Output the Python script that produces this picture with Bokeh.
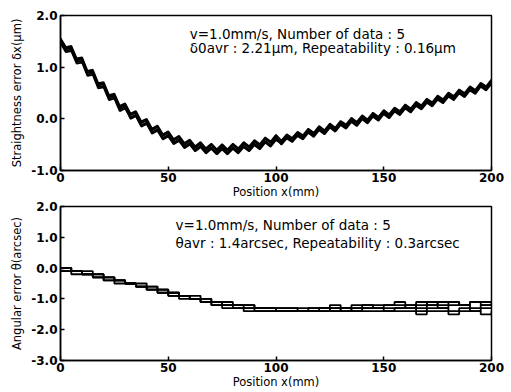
from bokeh.plotting import figure
from bokeh.layouts import column
from bokeh.models import FixedTicker, PrintfTickFormatter, Label, Range1d
from bokeh.embed import file_html
from bokeh.resources import INLINE

# ---- data: straightness error (um), sampled every 2.5 mm ----
pos = [i * 2.5 for i in range(81)]
s1 = [1.52, 1.35, 1.37, 1.13, 1.15, 0.89, 0.91, 0.65, 0.67, 0.42, 0.45, 0.21, 0.26, 0.03, 0.08, -0.12, -0.07, -0.26, -0.20, -0.37,
      -0.31, -0.46, -0.40, -0.54, -0.47, -0.60, -0.52, -0.64, -0.55, -0.66, -0.56, -0.66, -0.55, -0.64, -0.52, -0.60, -0.48, -0.56, -0.43, -0.51,
      -0.38, -0.45, -0.33, -0.40, -0.28, -0.35, -0.22, -0.30, -0.17, -0.25, -0.12, -0.20, -0.07, -0.14, -0.01, -0.09, 0.04, -0.04, 0.09, 0.01,
      0.14, 0.06, 0.19, 0.12, 0.25, 0.17, 0.30, 0.23, 0.36, 0.29, 0.42, 0.35, 0.48, 0.41, 0.54, 0.47, 0.60, 0.53, 0.67, 0.60, 0.73]
s2 = [1.56, 1.39, 1.41, 1.17, 1.19, 0.93, 0.95, 0.69, 0.71, 0.46, 0.49, 0.25, 0.30, 0.10, 0.15, -0.05, 0.00, -0.19, -0.13, -0.30,
      -0.24, -0.39, -0.33, -0.47, -0.40, -0.53, -0.45, -0.57, -0.48, -0.59, -0.49, -0.59, -0.48, -0.57, -0.45, -0.53, -0.41, -0.49, -0.36, -0.44,
      -0.31, -0.42, -0.30, -0.37, -0.25, -0.32, -0.19, -0.27, -0.14, -0.22, -0.09, -0.17, -0.04, -0.11, 0.02, -0.06, 0.07, -0.01, 0.12, 0.04,
      0.17, 0.09, 0.22, 0.15, 0.28, 0.20, 0.33, 0.26, 0.39, 0.32, 0.45, 0.38, 0.51, 0.44, 0.57, 0.50, 0.63, 0.56, 0.70, 0.63, 0.76]
s3 = [1.49, 1.32, 1.34, 1.10, 1.12, 0.86, 0.88, 0.62, 0.64, 0.39, 0.42, 0.18, 0.23, 0.00, 0.05, -0.15, -0.10, -0.29, -0.23, -0.40,
      -0.34, -0.49, -0.43, -0.57, -0.50, -0.63, -0.55, -0.67, -0.58, -0.69, -0.59, -0.69, -0.58, -0.67, -0.55, -0.63, -0.51, -0.59, -0.46, -0.54,
      -0.41, -0.48, -0.36, -0.43, -0.31, -0.38, -0.25, -0.33, -0.20, -0.28, -0.15, -0.23, -0.10, -0.17, -0.04, -0.12, 0.01, -0.07, 0.06, -0.02,
      0.11, 0.03, 0.16, 0.09, 0.22, 0.14, 0.27, 0.20, 0.33, 0.26, 0.39, 0.32, 0.45, 0.38, 0.51, 0.44, 0.57, 0.50, 0.64, 0.57, 0.70]
s4 = [1.46, 1.29, 1.31, 1.07, 1.09, 0.83, 0.85, 0.59, 0.61, 0.36, 0.39, 0.15, 0.20, 0.02, 0.07, -0.13, -0.08, -0.27, -0.21, -0.38,
      -0.32, -0.47, -0.41, -0.55, -0.48, -0.61, -0.53, -0.65, -0.56, -0.67, -0.57, -0.67, -0.56, -0.65, -0.53, -0.61, -0.49, -0.57, -0.44, -0.52,
      -0.39, -0.46, -0.34, -0.41, -0.29, -0.36, -0.23, -0.31, -0.18, -0.26, -0.13, -0.21, -0.08, -0.15, -0.02, -0.10, 0.03, -0.05, 0.08, 0.00,
      0.13, 0.05, 0.18, 0.11, 0.24, 0.16, 0.29, 0.22, 0.35, 0.28, 0.41, 0.34, 0.47, 0.40, 0.53, 0.46, 0.59, 0.52, 0.66, 0.59, 0.72]
s5 = [1.54, 1.37, 1.39, 1.15, 1.17, 0.91, 0.93, 0.67, 0.69, 0.44, 0.47, 0.23, 0.28, 0.07, 0.12, -0.08, -0.03, -0.22, -0.16, -0.33,
      -0.27, -0.42, -0.36, -0.50, -0.43, -0.56, -0.48, -0.60, -0.51, -0.62, -0.52, -0.62, -0.51, -0.60, -0.48, -0.56, -0.44, -0.52, -0.39, -0.47,
      -0.34, -0.50, -0.38, -0.45, -0.33, -0.40, -0.27, -0.35, -0.22, -0.30, -0.17, -0.25, -0.12, -0.19, -0.06, -0.14, -0.01, -0.09, 0.04, -0.04,
      0.09, 0.01, 0.14, 0.07, 0.20, 0.12, 0.25, 0.18, 0.31, 0.24, 0.37, 0.30, 0.43, 0.36, 0.49, 0.42, 0.55, 0.48, 0.62, 0.55, 0.68]

# ---- data: angular error (arcsec), sampled every 5 mm ----
pos5 = [i * 5 for i in range(41)]
t1 = [0.0, -0.1, -0.2, -0.3, -0.4, -0.5, -0.5, -0.6, -0.7, -0.8, -0.9, -0.9, -1.0, -1.1, -1.1, -1.2, -1.2, -1.3, -1.3, -1.3,
      -1.4, -1.4, -1.4, -1.4, -1.4, -1.3, -1.4, -1.3, -1.3, -1.3, -1.3, -1.3, -1.2, -1.3, -1.2, -1.3, -1.2, -1.2, -1.3, -1.2, -1.2]
t2 = [-0.1, -0.1, -0.2, -0.3, -0.3, -0.4, -0.5, -0.6, -0.6, -0.7, -0.8, -0.9, -1.0, -1.0, -1.1, -1.1, -1.2, -1.2, -1.3, -1.3,
      -1.3, -1.3, -1.4, -1.3, -1.3, -1.3, -1.3, -1.3, -1.2, -1.3, -1.2, -1.2, -1.3, -1.2, -1.1, -1.2, -1.1, -1.2, -1.1, -1.2, -1.1]
t3 = [0.0, -0.1, -0.2, -0.2, -0.3, -0.4, -0.5, -0.6, -0.7, -0.7, -0.8, -0.9, -1.0, -1.1, -1.2, -1.2, -1.3, -1.3, -1.4, -1.4,
      -1.4, -1.4, -1.4, -1.4, -1.3, -1.4, -1.3, -1.4, -1.3, -1.3, -1.4, -1.3, -1.3, -1.4, -1.3, -1.3, -1.4, -1.3, -1.4, -1.3, -1.3]
t4 = [-0.1, -0.2, -0.2, -0.3, -0.4, -0.4, -0.5, -0.6, -0.7, -0.8, -0.9, -1.0, -1.0, -1.1, -1.2, -1.3, -1.3, -1.4, -1.4, -1.4,
      -1.4, -1.4, -1.4, -1.4, -1.4, -1.4, -1.4, -1.4, -1.4, -1.4, -1.4, -1.4, -1.4, -1.5, -1.4, -1.4, -1.5, -1.4, -1.4, -1.5, -1.4]
t5 = [0.0, -0.1, -0.1, -0.2, -0.3, -0.4, -0.5, -0.5, -0.6, -0.7, -0.8, -0.9, -0.9, -1.0, -1.1, -1.2, -1.2, -1.2, -1.3, -1.3,
      -1.3, -1.3, -1.3, -1.3, -1.3, -1.2, -1.3, -1.2, -1.2, -1.2, -1.2, -1.1, -1.2, -1.1, -1.2, -1.1, -1.1, -1.2, -1.1, -1.1, -1.1]

x_ticks = [0, 50, 100, 150, 200]
y_ticks_top = [-1.0, 0.0, 1.0, 2.0]
y_ticks_bot = [-3.0, -2.0, -1.0, 0.0, 1.0, 2.0]

FONT = "DejaVu Sans"


def style(p, yticks):
    p.xaxis.ticker = FixedTicker(ticks=x_ticks)
    p.yaxis.ticker = FixedTicker(ticks=yticks)
    p.yaxis.formatter = PrintfTickFormatter(format="%.1f")
    p.xgrid.visible = False
    p.ygrid.visible = False
    p.outline_line_color = "black"
    p.outline_line_width = 1.5
    p.outline_line_alpha = 1.0
    for ax in (p.xaxis, p.yaxis):
        ax.axis_line_width = 1.5
        ax.axis_line_color = "black"
        ax.major_tick_in = 4
        ax.major_tick_out = 0
        ax.minor_tick_in = 0
        ax.minor_tick_out = 0
        ax.major_tick_line_width = 1.5
        ax.major_label_text_font = FONT
        ax.major_label_text_font_size = "12px"
        ax.major_label_text_font_style = "bold"
        ax.major_label_text_color = "black"
        ax.axis_label_text_font = FONT
        ax.axis_label_text_font_size = "11.5px"
        ax.axis_label_text_font_style = "normal"
        ax.axis_label_text_color = "black"
    p.xaxis.major_label_standoff = 2
    p.xaxis.axis_label_standoff = 0
    p.yaxis.major_label_standoff = 3
    p.yaxis.axis_label_standoff = 4


p1 = figure(frame_width=431, frame_height=155, output_backend="svg", toolbar_location=None,
            x_range=Range1d(0, 200), y_range=Range1d(-1.0, 2.0),
            min_border_left=60, min_border_right=20, min_border_top=15, min_border_bottom=30)
style(p1, y_ticks_top)
p1.xaxis.axis_label = "Position x(mm)"
p1.yaxis.axis_label = "Straightness error δx(μm)"
for s in (s1, s2, s3, s4, s5):
    p1.line(pos, s, line_color="black", line_width=1.8)
p1.add_layout(Label(x=60, y=1.64, text="v=1.0mm/s, Number of data : 5", text_font=FONT,
                    text_font_size="13.5px", text_baseline="middle", text_color="black"))
p1.add_layout(Label(x=60, y=1.37, text="δ0avr : 2.21μm, Repeatability : 0.16μm", text_font=FONT,
                    text_font_size="13.5px", text_baseline="middle", text_color="black"))

p2 = figure(frame_width=431, frame_height=154, output_backend="svg", toolbar_location=None,
            x_range=Range1d(0, 200), y_range=Range1d(-3.0, 2.0),
            min_border_left=60, min_border_right=20, min_border_top=5, min_border_bottom=32)
style(p2, y_ticks_bot)
p2.xaxis.axis_label = "Position x(mm)"
p2.yaxis.axis_label = "Angular error θ(arcsec)"
for t in (t1, t2, t3, t4, t5):
    p2.step(pos5, t, mode="after", line_color="black", line_width=1.8)
p2.add_layout(Label(x=53.4, y=1.40, text="v=1.0mm/s, Number of data : 5", text_font=FONT,
                    text_font_size="13.5px", text_baseline="middle", text_color="black"))
p2.add_layout(Label(x=53.4, y=0.81, text="θavr : 1.4arcsec, Repeatability : 0.3arcsec", text_font=FONT,
                    text_font_size="13.5px", text_baseline="middle", text_color="black"))

layout = column(p1, p2, spacing=0)
open("out.html", "w").write(file_html(layout, INLINE))
